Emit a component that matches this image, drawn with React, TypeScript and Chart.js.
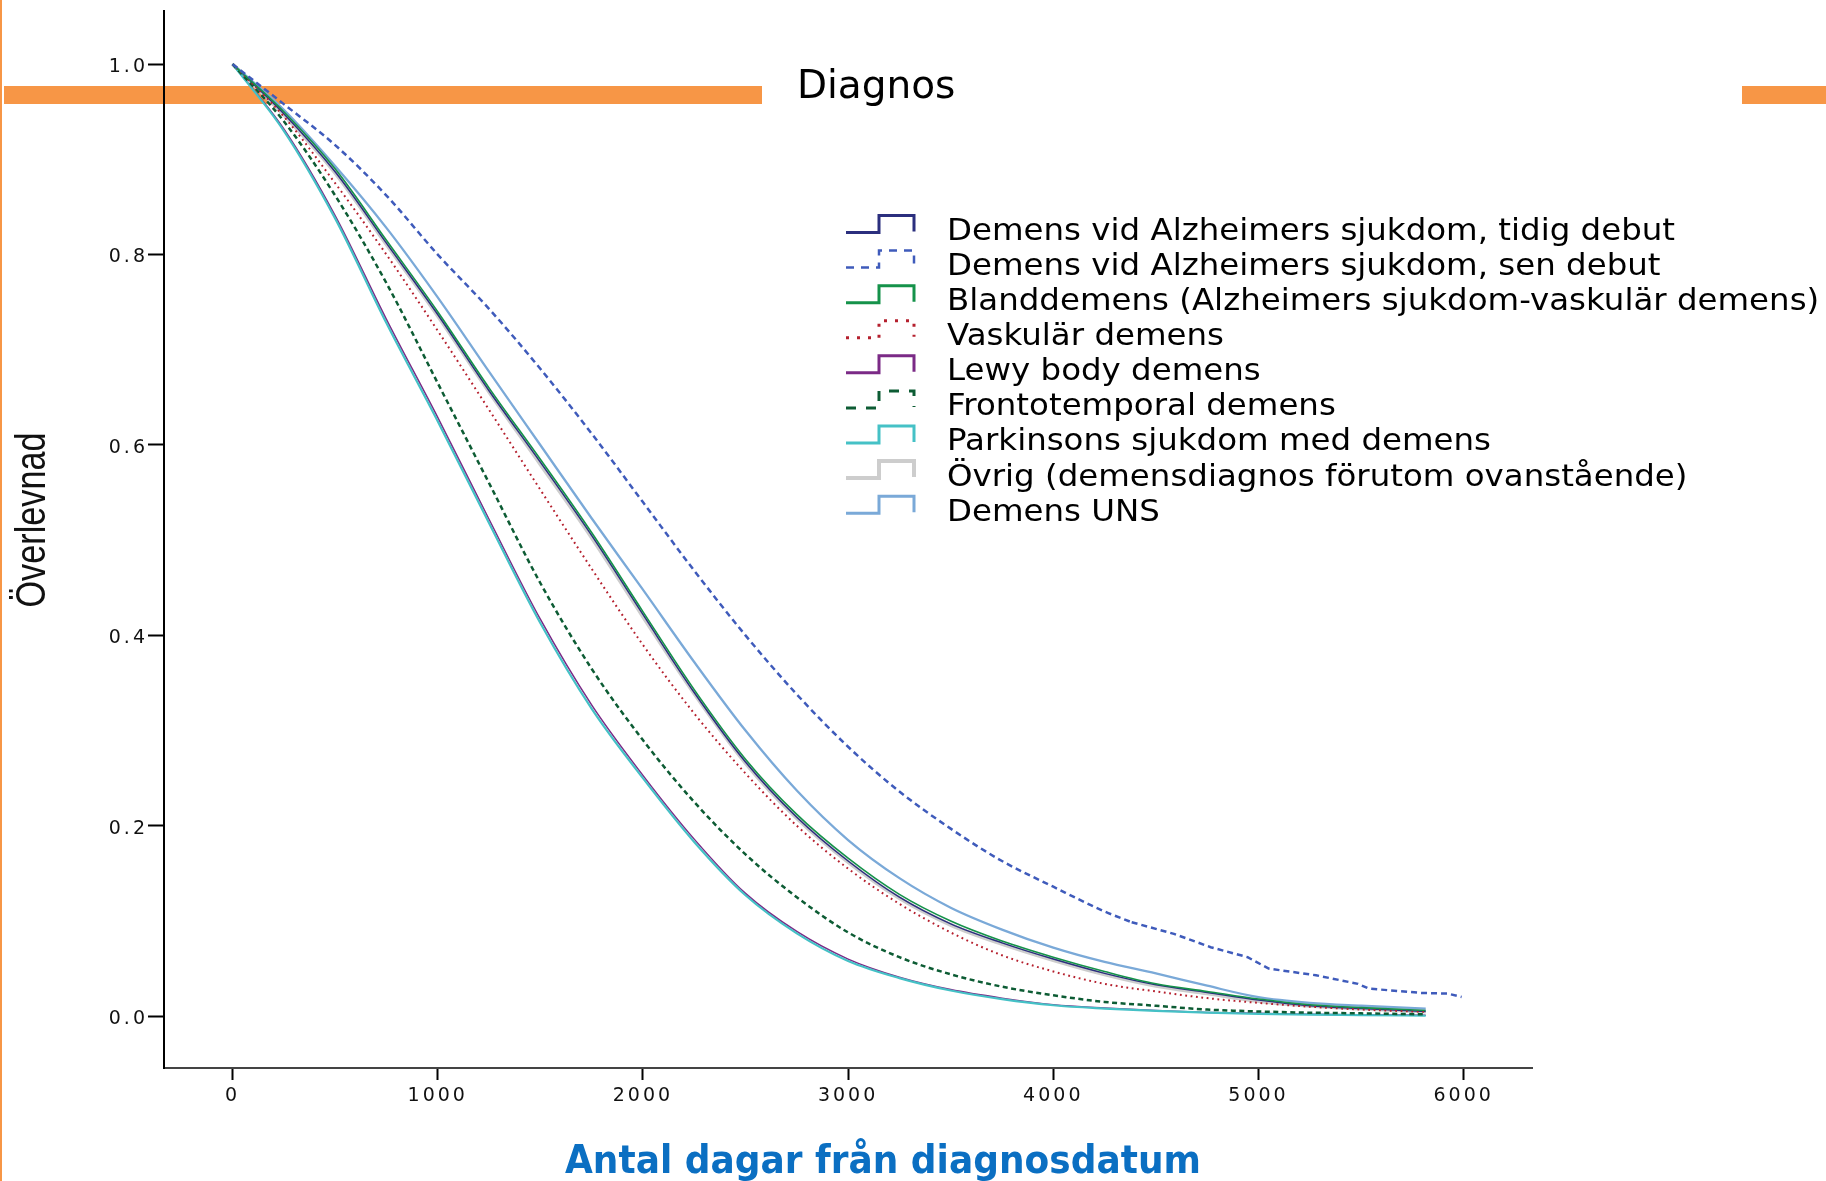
import React, { useEffect, useRef } from 'react';
import { Chart, registerables } from 'chart.js';

Chart.register(...registerables);

// ---------- data ----------
const days = [0, 250, 500, 750, 1000, 1250, 1500, 1750, 2000, 2250, 2500, 2750, 3000, 3250, 3500, 3750, 4000, 4250, 4500, 4750, 5000, 5250, 5500, 5815];
const daysLate = [0, 250, 500, 750, 1000, 1250, 1500, 1750, 2000, 2250, 2500, 2750, 3000, 3250, 3500, 3750, 4000, 4250, 4382];
// late-onset tail, read point by point
const daysLateTail = [4382, 4588, 4767, 4947, 5050, 5280, 5485, 5538, 5794, 5923, 5990];

const alzEarly = [1, 0.948, 0.887, 0.812, 0.737, 0.657, 0.582, 0.505, 0.422, 0.34, 0.267, 0.209, 0.163, 0.125, 0.097, 0.077, 0.06, 0.045, 0.033, 0.025, 0.017, 0.011, 0.008, 0.005];
const alzLate = [1, 0.958, 0.915, 0.862, 0.8, 0.743, 0.68, 0.612, 0.54, 0.468, 0.4, 0.338, 0.283, 0.236, 0.197, 0.163, 0.136, 0.11, 0.0987];
const alzLateTail = [0.0987, 0.0865, 0.0725, 0.062, 0.05, 0.043, 0.034, 0.029, 0.0244, 0.0237, 0.0202];
const mixed = [1, 0.95, 0.89, 0.815, 0.74, 0.66, 0.585, 0.508, 0.425, 0.343, 0.27, 0.212, 0.166, 0.128, 0.1, 0.079, 0.062, 0.047, 0.034, 0.026, 0.018, 0.012, 0.009, 0.006];
const vascular = [1, 0.945, 0.875, 0.8, 0.72, 0.637, 0.553, 0.47, 0.39, 0.318, 0.255, 0.2, 0.155, 0.118, 0.088, 0.064, 0.047, 0.034, 0.026, 0.019, 0.014, 0.01, 0.007, 0.0045];
const lewy = [1, 0.932, 0.841, 0.732, 0.629, 0.522, 0.417, 0.327, 0.253, 0.186, 0.129, 0.089, 0.06, 0.041, 0.028, 0.019, 0.012, 0.0085, 0.006, 0.004, 0.003, 0.002, 0.0015, 0.001];
const frontotemporal = [1, 0.94, 0.862, 0.77, 0.665, 0.56, 0.455, 0.365, 0.29, 0.225, 0.17, 0.125, 0.088, 0.062, 0.044, 0.031, 0.022, 0.015, 0.011, 0.007, 0.005, 0.0037, 0.003, 0.002];
const parkinson = [1, 0.93, 0.838, 0.728, 0.625, 0.518, 0.413, 0.323, 0.25, 0.183, 0.127, 0.087, 0.058, 0.04, 0.027, 0.018, 0.0115, 0.008, 0.0055, 0.0037, 0.0025, 0.0017, 0.0012, 0.0005];
const other = [1, 0.947, 0.886, 0.811, 0.736, 0.656, 0.58, 0.503, 0.42, 0.339, 0.266, 0.208, 0.162, 0.124, 0.096, 0.076, 0.059, 0.044, 0.032, 0.024, 0.016, 0.011, 0.008, 0.005];
const unspecified = [1, 0.952, 0.893, 0.828, 0.755, 0.677, 0.6, 0.523, 0.448, 0.372, 0.3, 0.237, 0.185, 0.145, 0.114, 0.091, 0.072, 0.057, 0.045, 0.032, 0.02, 0.014, 0.011, 0.008];

const seriesLabels = [
  'Demens vid Alzheimers sjukdom, tidig debut',
  'Demens vid Alzheimers sjukdom, sen debut',
  'Blanddemens (Alzheimers sjukdom-vaskulär demens)',
  'Vaskulär demens',
  'Lewy body demens',
  'Frontotemporal demens',
  'Parkinsons sjukdom med demens',
  'Övrig (demensdiagnos förutom ovanstående)',
  'Demens UNS',
];

const xTickValues = [0, 1000, 2000, 3000, 4000, 5000, 6000];
const yTickValues = [0, 0.2, 0.4, 0.6, 0.8, 1.0];

const xAxisTitle = 'Antal dagar från diagnosdatum';
const yAxisTitle = 'Överlevnad';
const headerText = 'Diagnos';

// ---------- styles ----------
const W = 1826;
const H = 1181;
const ORANGE = '#f79646';

const styles = [
  { color: '#2b2f7e', dash: [] as number[], width: 1.5, order: 2, legendDash: [] as number[], legendWidth: 3 },
  { color: '#3f5bbb', dash: [6, 4], width: 2.5, order: 1, legendDash: [8, 7], legendWidth: 2.5 },
  { color: '#15924a', dash: [], width: 1.6, order: 1, legendDash: [], legendWidth: 3 },
  { color: '#b5202e', dash: [1.8, 3.6], width: 2, order: 1, legendDash: [3, 8], legendWidth: 3 },
  { color: '#7b2a86', dash: [], width: 1.5, order: 2, legendDash: [], legendWidth: 3 },
  { color: '#0d5c34', dash: [5, 3.5], width: 2.5, order: 1, legendDash: [10, 10], legendWidth: 3 },
  { color: '#45c1c6', dash: [], width: 2.2, order: 1, legendDash: [], legendWidth: 3 },
  { color: '#cdcdcd', dash: [], width: 4, order: 3, legendDash: [], legendWidth: 4 },
  { color: '#7aa9d8', dash: [], width: 2.3, order: 1, legendDash: [], legendWidth: 3 },
];

const seriesValues = [alzEarly, alzLate, mixed, vascular, lewy, frontotemporal, parkinson, other, unspecified];
const seriesDays = [days, daysLate, days, days, days, days, days, days, days];

function drawFitText(ctx: CanvasRenderingContext2D, text: string, x: number, y: number, sx: number) {
  ctx.save();
  ctx.translate(x, y);
  ctx.scale(sx, 1);
  ctx.fillText(text, 0, 0);
  ctx.restore();
}

const decorPlugin = {
  id: 'decor',
  beforeDraw(chart: any) {
    const ctx: CanvasRenderingContext2D = chart.ctx;
    ctx.save();
    ctx.fillStyle = '#ffffff';
    ctx.fillRect(0, 0, W, H);
    ctx.fillStyle = ORANGE;
    ctx.fillRect(0, 0, 2, H);
    ctx.fillRect(4, 86, 758, 18);
    ctx.fillRect(1742, 86, 84, 18);
    ctx.restore();
    (ctx as any).letterSpacing = '3px';
  },
  afterDraw(chart: any) {
    const ctx: CanvasRenderingContext2D = chart.ctx;
    (ctx as any).letterSpacing = '0px';
    ctx.save();
    // header
    ctx.fillStyle = '#000';
    ctx.font = "39px 'DejaVu Sans'";
    ctx.textAlign = 'left';
    ctx.textBaseline = 'alphabetic';
    ctx.fillText(headerText, 797, 98);

    // y title (condensed)
    ctx.save();
    ctx.font = "42px 'Liberation Sans'";
    const yw = ctx.measureText(yAxisTitle).width;
    ctx.translate(45, 520);
    ctx.rotate(-Math.PI / 2);
    ctx.scale(175 / yw, 1);
    ctx.textAlign = 'center';
    ctx.fillStyle = '#111';
    ctx.fillText(yAxisTitle, 0, 0);
    ctx.restore();

    // x title
    ctx.save();
    ctx.font = "bold 39px 'DejaVu Sans'";
    const xw = ctx.measureText(xAxisTitle).width;
    ctx.fillStyle = '#0b6fc2';
    ctx.textAlign = 'left';
    drawFitText(ctx, xAxisTitle, 565, 1173, 636 / xw);
    ctx.restore();

    // legend
    const x0 = 846, xm = 879, x1 = 914;
    seriesLabels.forEach((lab, i) => {
      const st = styles[i];
      const base = 240 + 35.08 * i;
      const low = base - 7.5;
      const top = low - 17;
      ctx.save();
      ctx.strokeStyle = st.color;
      ctx.lineWidth = st.legendWidth;
      ctx.setLineDash(st.legendDash);
      ctx.lineCap = 'butt';
      ctx.lineJoin = 'miter';
      ctx.beginPath();
      ctx.moveTo(x0, low);
      ctx.lineTo(xm, low);
      ctx.lineTo(xm, top);
      ctx.lineTo(x1, top);
      ctx.lineTo(x1, low - 1);
      ctx.stroke();
      ctx.restore();
      ctx.fillStyle = '#000';
      ctx.font = "29.5px 'DejaVu Sans'";
      ctx.textAlign = 'left';
      drawFitText(ctx, lab, 947, base, 1.1);
    });
    ctx.restore();
  },
};

export default function App() {
  const ref = useRef<HTMLCanvasElement | null>(null);
  useEffect(() => {
    const canvas = ref.current;
    if (!canvas) return;
    const datasets: any[] = seriesLabels.map((lab, i) => ({
      label: lab,
      data: seriesDays[i].map((d, k) => ({ x: d, y: seriesValues[i][k] })),
      borderColor: styles[i].color,
      backgroundColor: styles[i].color,
      borderWidth: styles[i].width,
      borderDash: styles[i].dash,
      order: styles[i].order,
      pointRadius: 0,
      fill: false,
      cubicInterpolationMode: 'monotone' as const,
    }));
    datasets.push({
      label: seriesLabels[1] + ' (svans)',
      data: daysLateTail.map((d, k) => ({ x: d, y: alzLateTail[k] })),
      borderColor: styles[1].color,
      backgroundColor: styles[1].color,
      borderWidth: styles[1].width,
      borderDash: styles[1].dash,
      order: styles[1].order,
      pointRadius: 0,
      fill: false,
      tension: 0,
    });
    const chart = new Chart(canvas, {
      type: 'line',
      data: { datasets },
      options: {
        animation: false,
        responsive: false,
        devicePixelRatio: 1,
        layout: { padding: { left: 0, top: 7, right: W - 1532, bottom: 0 } },
        plugins: { legend: { display: false }, tooltip: { enabled: false }, title: { display: false } },
        scales: {
          x: {
            type: 'linear',
            min: -334,
            max: 6333,
            afterFit: (s: any) => { s.height = H - 1068; },
            afterBuildTicks: (s: any) => { s.ticks = xTickValues.map((v) => ({ value: v })); },
            grid: { display: true, drawOnChartArea: false, drawTicks: true, tickLength: 12, tickWidth: 2, tickColor: '#000' },
            border: { display: true, color: '#444', width: 2 },
            ticks: {
              autoSkip: false,
              maxRotation: 0,
              padding: 5,
              color: '#111',
              font: { family: "'DejaVu Sans'", size: 19 },
              callback: (v: any) => String(v),
            },
          },
          y: {
            type: 'linear',
            min: -0.0544,
            max: 1.0554,
            afterFit: (s: any) => { s.width = 164; },
            afterBuildTicks: (s: any) => { s.ticks = yTickValues.map((v) => ({ value: v })); },
            grid: { display: true, drawOnChartArea: false, drawTicks: true, tickLength: 16, tickWidth: 2, tickColor: '#000' },
            border: { display: true, color: '#000', width: 2 },
            ticks: {
              padding: 0,
              labelOffset: 3,
              color: '#111',
              font: { family: "'DejaVu Sans'", size: 19 },
              callback: (v: any) => Number(v).toFixed(1),
            },
          },
        },
      },
      plugins: [decorPlugin],
    } as any);
    return () => chart.destroy();
  }, []);
  return (
    <div style={{ position: 'fixed', left: 0, top: 0, width: W, height: H, background: '#fff' }}>
      <canvas ref={ref} width={W} height={H} style={{ display: 'block', width: W, height: H }} />
    </div>
  );
}
